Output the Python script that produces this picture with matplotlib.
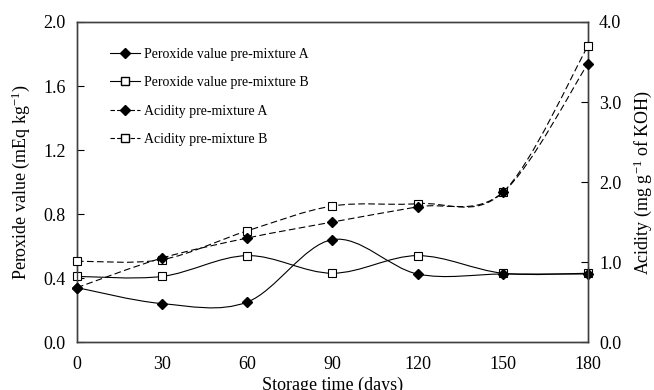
import matplotlib.pyplot as plt
from matplotlib.path import Path
from matplotlib.patches import PathPatch
from matplotlib.lines import Line2D

plt.rcParams['font.family'] = ['Liberation Serif', 'DejaVu Serif']
plt.rcParams['mathtext.fontset'] = 'custom'
plt.rcParams['mathtext.rm'] = 'Liberation Serif'
plt.rcParams['mathtext.it'] = 'Liberation Serif:italic'

# Данные
days = [0, 30, 60, 90, 120, 150, 180]
peroxide_a = [0.34, 0.24, 0.25, 0.64, 0.425, 0.425, 0.425]
peroxide_b = [0.41, 0.41, 0.54, 0.43, 0.54, 0.43, 0.43]
acidity_a = [0.68, 1.05, 1.30, 1.50, 1.69, 1.87, 3.48]
acidity_b = [1.01, 1.03, 1.39, 1.70, 1.73, 1.87, 3.70]


def smooth_path(x, y):
    # сглаженная линия как в Excel (кривые Безье)
    pts = list(zip(x, y))
    n = len(pts)
    verts = [pts[0]]
    codes = [Path.MOVETO]
    for i in range(n - 1):
        p0 = pts[i - 1] if i > 0 else pts[i]
        p1 = pts[i]
        p2 = pts[i + 1]
        p3 = pts[i + 2] if i + 2 < n else pts[i + 1]
        c1 = (p1[0] + (p2[0] - p0[0]) / 6, p1[1] + (p2[1] - p0[1]) / 6)
        c2 = (p2[0] - (p3[0] - p1[0]) / 6, p2[1] - (p3[1] - p1[1]) / 6)
        verts += [c1, c2, p2]
        codes += [Path.CURVE4] * 3
    return Path(verts, codes)


fig = plt.figure(figsize=(6.54, 3.9), dpi=100)
ax = fig.add_axes([0.1177, 0.123, 0.7813, 0.8206])
ax2 = ax.twinx()

dash = (0, (6, 3))
ax.add_patch(PathPatch(smooth_path(days, peroxide_a), fill=False, color='black', lw=0.8))
ax.add_patch(PathPatch(smooth_path(days, peroxide_b), fill=False, color='black', lw=0.8))
ax2.add_patch(PathPatch(smooth_path(days, acidity_a), fill=False, color='black', lw=0.8, linestyle=dash))
ax2.add_patch(PathPatch(smooth_path(days, acidity_b), fill=False, color='black', lw=0.8, linestyle=dash))

ax.plot(days, peroxide_b, linestyle='none', marker='s', ms=6, mfc='white', mec='black', mew=0.8, clip_on=False, zorder=3)
ax.plot(days, peroxide_a, linestyle='none', marker='D', ms=5.5, color='black', clip_on=False, zorder=3)
ax2.plot(days, acidity_b, linestyle='none', marker='s', ms=6, mfc='white', mec='black', mew=0.8, clip_on=False, zorder=3)
ax2.plot(days, acidity_a, linestyle='none', marker='D', ms=5.5, color='black', clip_on=False, zorder=3)

ax.set_xlim(0, 180)
ax.set_ylim(0, 2.0)
ax2.set_ylim(0, 4.0)
ax.set_xticks(days)
ax.set_yticks([0, 0.4, 0.8, 1.2, 1.6, 2.0])
ax.set_yticklabels(['0.0', '0.4', '0.8', '1.2', '1.6', '2.0'])
ax2.set_yticks([0, 1, 2, 3, 4])
ax2.set_yticklabels(['0.0', '1.0', '2.0', '3.0', '4.0'])

ax.tick_params(axis='x', length=0, labelsize=13, pad=10)
ax.tick_params(axis='y', direction='in', length=5, labelsize=13, pad=8)
ax2.tick_params(axis='y', direction='in', length=5, labelsize=13, pad=8)

for a in (ax, ax2):
    for s in a.spines.values():
        s.set_color('#404040')
        s.set_linewidth(1.0)

ax.set_xlabel('Storage time (days)', fontsize=13, labelpad=3)
ax.set_ylabel('Peroxide value (mEq kg$^{-1}$)', fontsize=13, labelpad=8)
ax2.set_ylabel('Acidity (mg g$^{-1}$ of KOH)', fontsize=13, labelpad=7)

handles = [
    Line2D([], [], color='black', lw=0.8, marker='D', ms=5),
    Line2D([], [], color='black', lw=0.8, marker='s', ms=5.5, mfc='white'),
    Line2D([], [], color='black', lw=0.8, ls=(0, (4, 2)), marker='D', ms=5),
    Line2D([], [], color='black', lw=0.8, ls=(0, (4, 2)), marker='s', ms=5.5, mfc='white'),
]
labels = ['Peroxide value pre-mixture A', 'Peroxide value pre-mixture B',
          'Acidity pre-mixture A', 'Acidity pre-mixture B']
ax2.legend(handles, labels, loc='upper left', bbox_to_anchor=(0.168, 0.878),
           bbox_transform=fig.transFigure, frameon=False, fontsize=10,
           handlelength=2.2, handletextpad=0.25, labelspacing=1.12,
           borderpad=0, borderaxespad=0)

plt.savefig('out.png', dpi=100)
